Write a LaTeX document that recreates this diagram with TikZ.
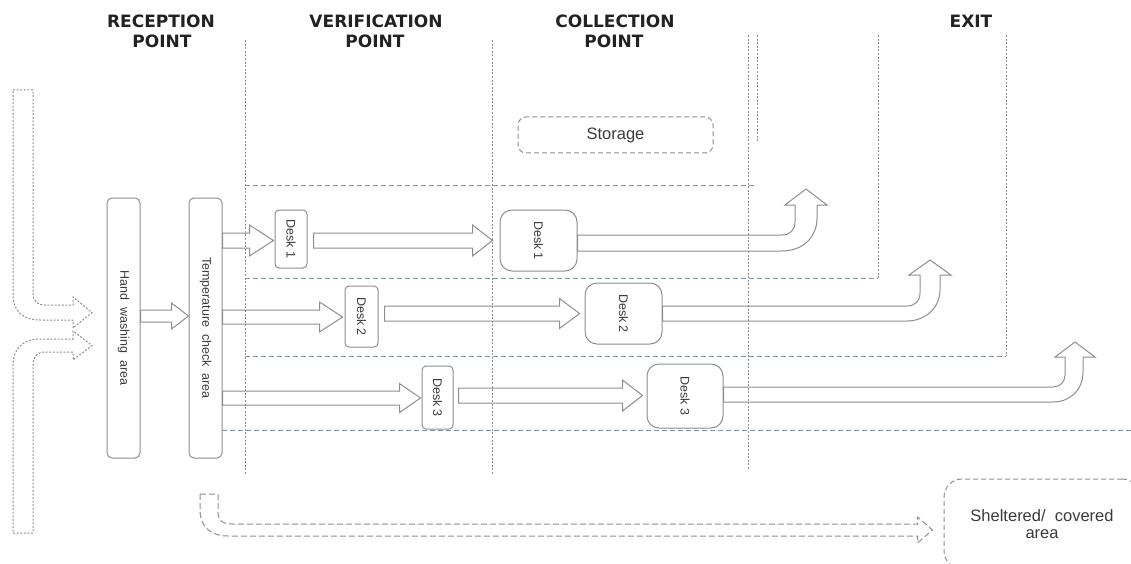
\documentclass[tikz,border=0pt]{standalone}
\usepackage{fontspec}
\setmainfont{Liberation Sans}
\newfontfamily\hdfont{DejaVu Sans}
\usetikzlibrary{calc}
\definecolor{boxline}{HTML}{8E8E8E}
\definecolor{txt}{HTML}{3A3A3A}
\definecolor{vline}{HTML}{8C9094}
\definecolor{hline}{HTML}{7E909C}
\definecolor{hdcol}{HTML}{222222}
\tikzset{
  hdr/.style={font=\hdfont\bfseries\fontsize{17}{20}\selectfont, text=hdcol, anchor=base, inner sep=0pt},
  box/.style={draw=boxline, line width=1pt, rounded corners=5pt, inner sep=0pt, text=txt,
    font=\fontsize{12.5}{14}\selectfont},
  tallbox/.style={box, minimum width=33pt, minimum height=260pt},
  vdesk/.style={box, rounded corners=4pt, minimum width=32pt},
  cdesk/.style={box, rounded corners=12pt, minimum width=77pt, minimum height=61pt},
  dbox/.style={draw=boxline, line width=1pt, dash pattern=on 5pt off 3pt, inner sep=0pt, text=txt,
    font=\fontsize{16.5}{17}\selectfont, align=center},
  blk/.style={draw=boxline, line width=1pt, line join=miter},
  dblk/.style={draw=boxline, line width=1pt, dash pattern=on 2pt off 1.6pt},
  lblk/.style={draw=boxline, line width=1pt, dash pattern=on 6pt off 3pt},
  vdot/.style={draw=vline, line width=1pt, dash pattern=on 2pt off 1.6pt},
  hdash/.style={draw=hline, line width=1pt, dash pattern=on 5pt off 3pt},
}
% horizontal block arrow: from, to, y centre, shaft half, head half, head length, start gap, end gap
\newcommand\harr[8]{%
  \draw[blk] let \p1=(#1), \p2=(#2) in
    ({\x1+#7pt},{-(#3-#4)*1pt}) -- ({\x2-(#8+#6)*1pt},{-(#3-#4)*1pt})
    -- ({\x2-(#8+#6)*1pt},{-(#3-#5)*1pt}) -- ({\x2-#8pt},{-#3*1pt})
    -- ({\x2-(#8+#6)*1pt},{-(#3+#5)*1pt}) -- ({\x2-(#8+#6)*1pt},{-(#3+#4)*1pt})
    -- ({\x1+#7pt},{-(#3+#4)*1pt}) -- cycle;}
\begin{document}
\begin{tikzpicture}[x=1pt,y=-1pt]
\useasboundingbox (0,0) rectangle (1131,564);
\clip (0,0) rectangle (1131,564);

% headers
\node[hdr] (h1a) at (161,28) {RECEPTION};
\node[hdr] (h1b) at (162,48) {POINT};
\node[hdr] (h2a) at (376,28) {VERIFICATION};
\node[hdr] (h2b) at (375,48) {POINT};
\node[hdr] (h3a) at (615,28) {COLLECTION};
\node[hdr] (h3b) at (614,48) {POINT};
\node[hdr] (h4) at (971,28) {EXIT};

% zone lines
\draw[vdot] (245,40) -- (245,474);
\draw[vdot] (492,40) -- (492,474);
\draw[vdot] (748,35) -- (748,470);
\draw[vdot] (757,35) -- (757,143);
\draw[vdot] (878,35) -- (878,278);
\draw[vdot] (1006,35) -- (1006,356);
\draw[hdash] (245,185) -- (755,185);
\draw[hdash] (245,278) -- (878,278);
\draw[hdash] (245,356) -- (1006,356);
\draw[hdash] (222,430) -- (1131,430);

% boxes
\node[tallbox] (hw) at (123.5,328) {\rotatebox{-90}{Hand~ washing~ area}};
\node[tallbox] (tc) at (205.5,328) {\rotatebox{-90}{Temperature~ check~ area}};
\node[vdesk, minimum height=58pt] (v1) at (291,239) {\rotatebox{-90}{Desk 1}};
\node[vdesk, minimum width=33pt, minimum height=61pt] (v2) at (361.5,316.5) {\rotatebox{-90}{Desk 2}};
\node[vdesk, minimum width=31pt, minimum height=63pt] (v3) at (437.5,397.5) {\rotatebox{-90}{Desk 3}};
\node[cdesk] (c1) at (538.5,240.5) {\rotatebox{-90}{Desk 1}};
\node[cdesk] (c2) at (623.5,313.5) {\rotatebox{-90}{Desk 2}};
\node[cdesk, minimum width=76pt, minimum height=64pt] (c3) at (685,396) {\rotatebox{-90}{Desk 3}};
\node[dbox, rounded corners=8pt, minimum width=195pt, minimum height=36pt] (st) at (615.5,135) {Storage};
\node[dbox, rounded corners=18pt, minimum width=196pt, minimum height=90pt] (sh) at (1042,524) {Sheltered/~ covered\\area};

% block arrows
\harr{hw.east}{tc.west}{316}{6}{13}{17}{0}{0}
\harr{tc.east}{v1.west}{240.5}{7.5}{15.5}{24}{0}{1}
\harr{tc.east}{v2.west}{317}{7}{15}{23}{0}{2}
\harr{tc.east}{v3.west}{398}{7}{14.5}{21}{0}{1}
\harr{v1.east}{c1.west}{240.5}{7.5}{15.5}{20}{6}{7}
\harr{v2.east}{c2.west}{313.5}{7.5}{15}{20}{6}{5}
\harr{v3.east}{c3.west}{395.5}{7.5}{15.5}{20}{5}{4}

% exit arrows
\draw[blk] (c1.east |- 0,235) -- (782,235) .. controls (790,235) and (795,230) .. (795,222)
  -- (795,205) -- (785,205) -- (806,189) -- (827,205) -- (817,205) -- (817,218)
  .. controls (817,238) and (802,251) .. (782,251) -- (c1.east |- 0,251) -- cycle;
\draw[blk] (c2.east |- 0,306) -- (907,306) .. controls (915,306) and (920,301) .. (920,293)
  -- (920,275) -- (909,275) -- (930,260) -- (951,275) -- (940,275) -- (940,290)
  .. controls (940,308) and (925,321) .. (907,321) -- (c2.east |- 0,321) -- cycle;
\draw[blk] (c3.east |- 0,387) -- (1053,387) .. controls (1060,387) and (1065,382) .. (1065,375)
  -- (1065,357) -- (1055,357) -- (1075,342) -- (1095,357) -- (1083,357) -- (1083,372)
  .. controls (1083,390) and (1070,402) .. (1053,402) -- (c3.east |- 0,402) -- cycle;

% entry arrows (dashed)
\draw[dblk] (13,90) -- (33,90) -- (33,293) .. controls (33,301) and (37,305) .. (45,305)
  -- (73,305) -- (73,297) -- (92,312.5) -- (73,328) -- (73,320) -- (40,320)
  .. controls (22,320) and (13,310) .. (13,295) -- cycle;
\draw[dblk] (13,533) -- (33,533) -- (33,365) .. controls (33,357) and (37,352) .. (45,352)
  -- (73,352) -- (73,360) -- (92,345.5) -- (73,331) -- (73,339) -- (40,339)
  .. controls (22,339) and (13,350) .. (13,365) -- cycle;

% arrow to sheltered area
\draw[lblk] (200,494) -- (218,494) -- (218,512) .. controls (218,520) and (222,524) .. (232,524)
  -- ($(sh.west |- 0,524)+(-26,0)$) -- ($(sh.west |- 0,517)+(-26,0)$) -- ($(sh.west |- 0,530)+(-11,0)$)
  -- ($(sh.west |- 0,543)+(-26,0)$) -- ($(sh.west |- 0,536)+(-26,0)$) -- (228,536)
  .. controls (210,536) and (200,526) .. (200,510) -- cycle;
\end{tikzpicture}
\end{document}
